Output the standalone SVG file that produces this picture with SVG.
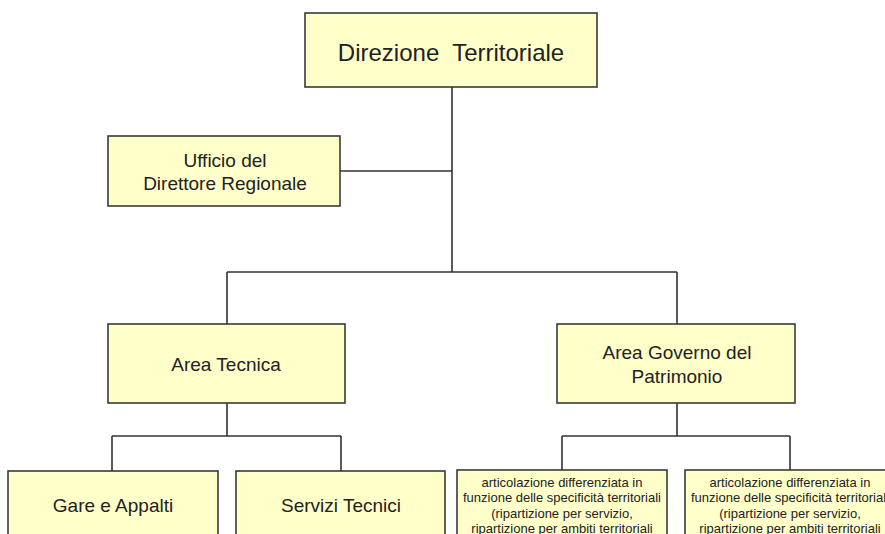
<svg xmlns="http://www.w3.org/2000/svg" width="885" height="534" viewBox="0 0 885 534">
<style>
.box{fill:#ffffca;stroke:#3a3a3a;stroke-width:1.6}
.t{font-family:"Liberation Sans",Arial,sans-serif;fill:#222;text-anchor:middle}
.l{font-size:19px}
.s{font-size:13px}
.c{fill:none;stroke:#333;stroke-width:1.6}
</style>
<rect width="885" height="534" fill="#fff"/>
<g id="connectors" class="c">
<path d="M452 87V272M340 171H452M227 272H677M227 272V324M677 272V324"/>
<path d="M227 403V436M112 436H341M112 436V471M341 436V471"/>
<path d="M677 403V436M562 436H790M562 436V470M790 436V470"/>
</g>
<g id="direzione">
<rect class="box" x="305" y="13" width="292" height="74"/>
<text class="t" x="451" y="61" font-size="24" xml:space="preserve">Direzione  Territoriale</text>
</g>
<g id="ufficio">
<rect class="box" x="108" y="136" width="232" height="70"/>
<text class="t l" x="225" y="167">Ufficio del</text>
<text class="t l" x="225" y="190">Direttore Regionale</text>
</g>
<g id="area-tecnica">
<rect class="box" x="108" y="324" width="237" height="79"/>
<text class="t l" x="226" y="371">Area Tecnica</text>
</g>
<g id="area-governo">
<rect class="box" x="557" y="324" width="238" height="79"/>
<text class="t l" x="677" y="359">Area Governo del</text>
<text class="t l" x="677" y="383">Patrimonio</text>
</g>
<g id="gare">
<rect class="box" x="8" y="471" width="210" height="80"/>
<text class="t l" x="113" y="512">Gare e Appalti</text>
</g>
<g id="servizi">
<rect class="box" x="236" y="471" width="209" height="80"/>
<text class="t l" x="341" y="512">Servizi Tecnici</text>
</g>
<g id="articolazione-1">
<rect class="box" x="457" y="470" width="210" height="80"/>
<text class="t s" x="562" y="487">articolazione differenziata in</text>
<text class="t s" x="562" y="502">funzione delle specificità territoriali</text>
<text class="t s" x="562" y="518">(ripartizione per servizio,</text>
<text class="t s" x="562" y="533">ripartizione per ambiti territoriali</text>
</g>
<g id="articolazione-2">
<rect class="box" x="685" y="470" width="210" height="80"/>
<text class="t s" x="790" y="487">articolazione differenziata in</text>
<text class="t s" x="790" y="502">funzione delle specificità territoriali</text>
<text class="t s" x="790" y="518">(ripartizione per servizio,</text>
<text class="t s" x="790" y="533">ripartizione per ambiti territoriali</text>
</g>
</svg>
